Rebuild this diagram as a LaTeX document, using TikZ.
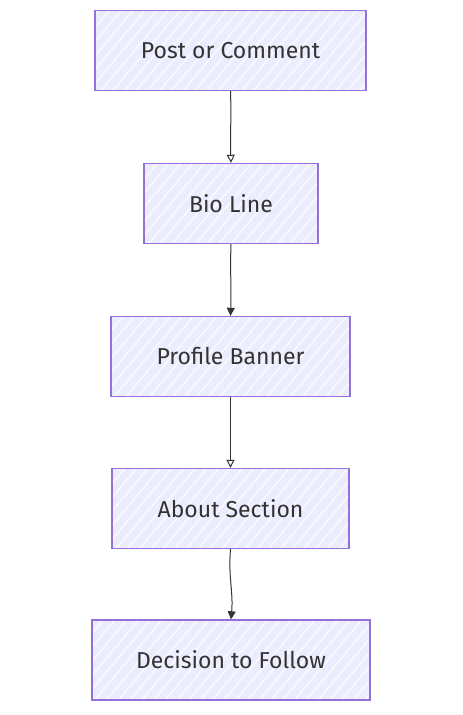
\documentclass[tikz,border=0pt]{standalone}
\usepackage{fontspec}
\setmainfont{Fira Sans}
\usetikzlibrary{arrows.meta,patterns.meta}
\definecolor{boxfill}{HTML}{ECECFF}
\definecolor{boxline}{HTML}{9370DB}
\definecolor{arrowline}{HTML}{333333}

\begin{document}
\begin{tikzpicture}[x=1pt,y=-1pt]
\tikzstyle{every node}+=[inner sep=0pt]
\tikzstyle{stepbox}=[draw=boxline, line width=1.4pt, fill=boxfill, font=\fontsize{23}{27}\selectfont, text=arrowline, minimum height=80pt,
  path picture={\fill [pattern={Lines[angle=50,distance=9pt,line width=1.6pt]}, pattern color=white, opacity=0.7]
    (path picture bounding box.south west) rectangle (path picture bounding box.north east);}]
\tikzstyle{flow}=[draw=arrowline, line width=1pt]
\useasboundingbox (0,0) rectangle (463,715);
\node [stepbox, minimum width=271pt] (post) at (230.5,50.5) {Post or Comment};
\node [stepbox, minimum width=174pt] (bio) at (231,203.5) {Bio Line};
\node [stepbox, minimum width=239pt] (banner) at (230.5,356.5) {Profile Banner};
\node [stepbox, minimum width=237pt] (about) at (230.5,508.5) {About Section};
\node [stepbox, minimum width=278pt] (decide) at (231,660) {Decision to Follow};
% connectors
\draw [flow, -{Triangle[open,length=8pt,width=8pt]}] (post.south) to[out=-88,in=92] (bio.north);
\draw [flow, -{Triangle[length=8pt,width=8pt]}] (bio.south) to[out=-92,in=88] (banner.north);
\draw [flow, -{Triangle[open,length=8pt,width=8pt]}] (banner.south) to[out=-90,in=90] (about.north);
\draw [flow, -{Triangle[length=8pt,width=8pt]}] (about.south) to[out=-95,in=85] (decide.north);
\end{tikzpicture}
\end{document}
